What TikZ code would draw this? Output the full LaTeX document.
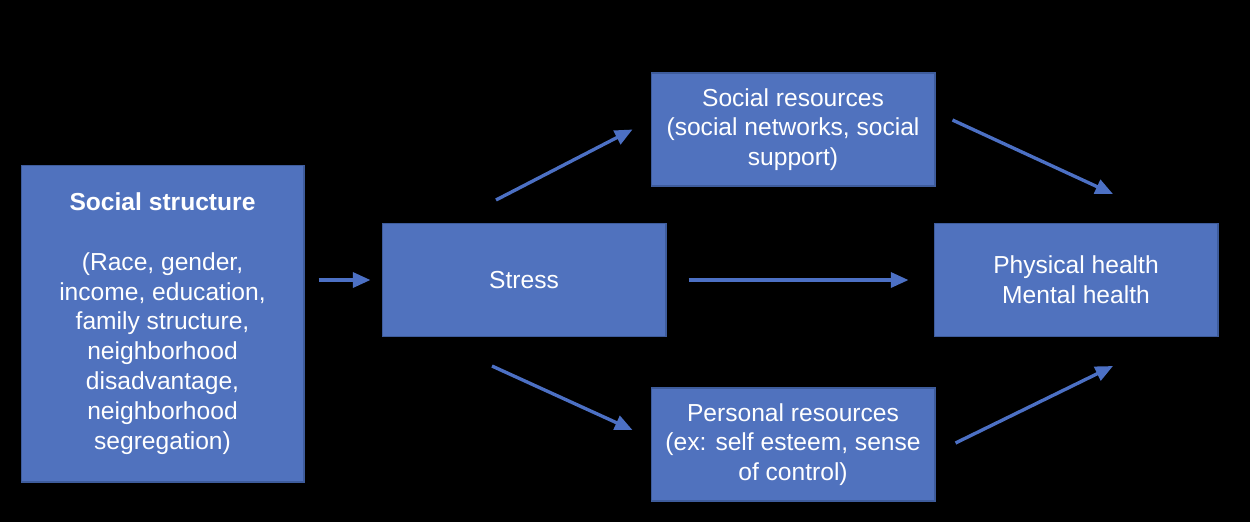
\documentclass[tikz,border=0pt]{standalone}
\usepackage{fontspec}
\setmainfont{Liberation Sans}
\usepackage{tikz}
\usetikzlibrary{arrows.meta}
\definecolor{boxblue}{RGB}{80,114,190}
\definecolor{boxline}{RGB}{62,92,156}
\definecolor{arrowblue}{RGB}{76,112,196}
\tikzstyle{bluebox} = [draw=boxline, fill=boxblue, line width=0.6pt, rectangle, inner sep=0pt, text=white, align=center, font=\fontsize{14}{17}\selectfont, minimum width=5.68cm, minimum height=2.26cm]
\tikzstyle{flowarrow} = [draw=arrowblue, line width=1.9pt, -{Triangle[length=10pt,width=8.5pt]}]

\begin{document}
\begin{tikzpicture}[x=0.02cm, y=-0.02cm]
\fill[black] (0,0) rectangle (1250,522);
\node [bluebox, minimum width=5.66cm, minimum height=6.34cm] (structure) at (162.5,323.5) {%
    \textbf{Social structure}\\[17pt]
    (Race, gender,\\ income, education,\\ family structure,\\ neighborhood\\ disadvantage,\\ neighborhood\\ segregation)};
\node [bluebox] (stress) at (524,280) {Stress};
\node [bluebox] (social) at (793,129.5) {Social resources\\ (social networks, social\\ support)};
\node [bluebox] (personal) at (793,444.5) {Personal resources\\ (ex: self esteem, sense\\ of control)};
\node [bluebox] (health) at (1076,280) {Physical health\\ Mental health};
% arrows
\draw[flowarrow] ([shift={(14,0)}]structure.east |- stress.west) -- ([shift={(-11,0)}]stress.west);
\draw[flowarrow] ([shift={(-28,-23)}]stress.north) -- ([shift={(-18,0)}]social.west);
\draw[flowarrow] ([shift={(22,0)}]stress.east) -- ([shift={(-25,0)}]health.west);
\draw[flowarrow] ([shift={(-32,29)}]stress.south) -- ([shift={(-18,-14.5)}]personal.west);
\draw[flowarrow] ([shift={(17,-9.5)}]social.east) -- ([shift={(37,-29)}]health.north);
\draw[flowarrow] ([shift={(20,-1.5)}]personal.east) -- ([shift={(37,29)}]health.south);
\end{tikzpicture}
\end{document}
